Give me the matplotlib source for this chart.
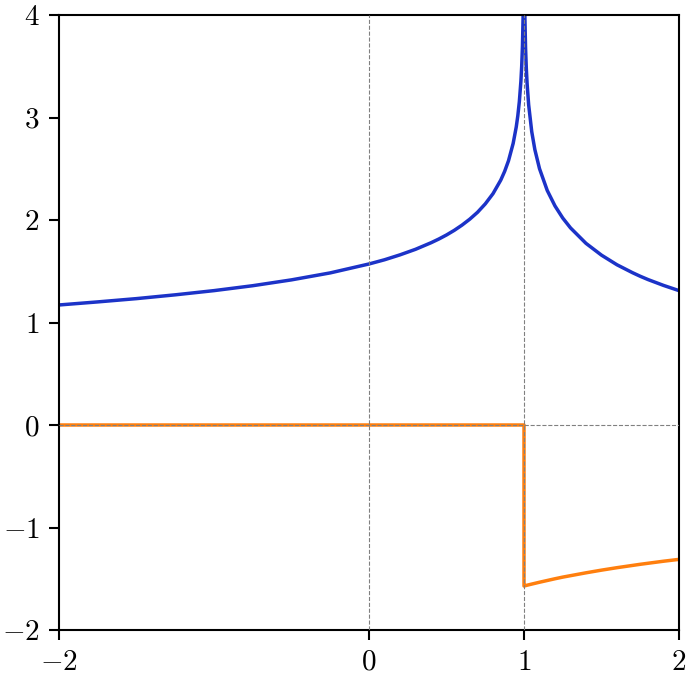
import matplotlib
matplotlib.use("Agg")
import matplotlib.pyplot as plt

plt.rcParams["mathtext.fontset"] = "cm"
plt.rcParams["font.family"] = "serif"
plt.rcParams["font.serif"] = ["cmr10", "DejaVu Serif"]
plt.rcParams["axes.formatter.use_mathtext"] = True

re_x = [-2.0, -1.75, -1.5, -1.25, -1.0, -0.75, -0.5, -0.25, 0.0, 0.1, 0.2, 0.3, 0.4, 0.45,
        0.5, 0.55, 0.6, 0.65, 0.7, 0.75, 0.8, 0.85, 0.875, 0.9, 0.93, 0.95, 0.96, 0.97,
        0.98, 0.985, 0.99, 0.995, 0.9975, 0.999,
        1.001, 1.0025, 1.005, 1.01, 1.015, 1.02, 1.03, 1.05, 1.07, 1.1, 1.15, 1.2, 1.25,
        1.3, 1.4, 1.5, 1.6, 1.7, 1.75, 1.8, 1.9, 2.0]
re_y = [1.171, 1.201, 1.233, 1.270, 1.311, 1.359, 1.416, 1.484, 1.571, 1.612, 1.660, 1.714, 1.778, 1.814,
        1.854, 1.899, 1.950, 2.008, 2.075, 2.157, 2.257, 2.389, 2.474, 2.578, 2.747, 2.908, 3.016, 3.156,
        3.354, 3.495, 3.696, 4.039, 4.384, 4.84,
        4.84, 4.380, 4.032, 3.682, 3.477, 3.331, 3.124, 2.861, 2.687, 2.501, 2.288, 2.137, 2.019,
        1.923, 1.772, 1.657, 1.563, 1.486, 1.451, 1.419, 1.362, 1.311]

# imaginary part (orange)
im_x = [-2.0, 1.0, 1.0, 1.01, 1.02, 1.05, 1.1, 1.2, 1.25, 1.3, 1.4, 1.5, 1.6, 1.75, 1.8, 1.9, 2.0]
im_y = [0.0, 0.0, -1.571, -1.567, -1.563, -1.552, -1.534, -1.500, -1.484, -1.470, -1.442, -1.416,
        -1.392, -1.359, -1.349, -1.329, -1.311]

xticks = [-2, 0, 1, 2]
yticks = [-2, -1, 0, 1, 2, 3, 4]

fig = plt.figure(figsize=(6.89, 6.82), dpi=100)
ax = fig.add_axes([59/689, 52/682, 620/689, 615/682])

ax.plot(re_x, re_y, c="#1c33c8", lw=2.5)
ax.plot(im_x, im_y, c="#ff7f0e", lw=2.5)

ax.axvline(0, c="gray", ls="--", lw=0.8, zorder=5)
ax.axvline(1, c="gray", ls="--", lw=0.8, zorder=5)
ax.axhline(0, c="gray", ls="--", lw=0.8, zorder=5)

ax.set_xlim(-2, 2)
ax.set_ylim(-2, 4)
ax.set_xticks(xticks)
ax.set_xticklabels([r"$%d$" % t for t in xticks])
ax.set_yticks(yticks)
ax.set_yticklabels([r"$%d$" % t for t in yticks])
ax.tick_params(labelsize=21, width=1.5, length=7, pad=7)
for s in ax.spines.values():
    s.set_linewidth(1.5)

fig.savefig("out.png", dpi=100)
